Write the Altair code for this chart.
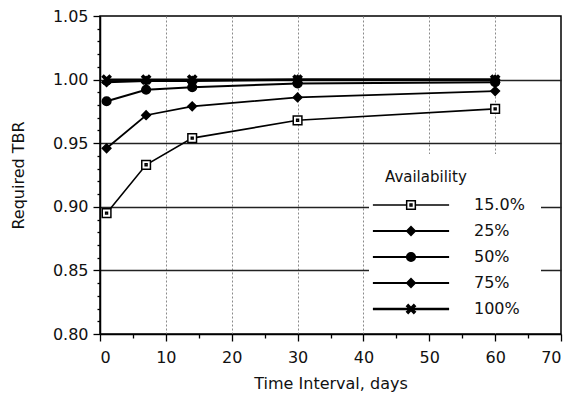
import altair as alt
import pandas as pd

# ---- data ----
days = [1, 7, 14, 30, 60]
series = ["15.0%", "25%", "50%", "75%", "100%"]
marker_keys = ["m15", "m25", "m50", "m75", "m100"]
tbr_15 = [0.895, 0.933, 0.954, 0.968, 0.977]
tbr_25 = [0.946, 0.972, 0.979, 0.986, 0.991]
tbr_50 = [0.983, 0.992, 0.994, 0.997, 0.998]
tbr_75 = [0.998, 0.999, 0.999, 1.000, 1.000]
tbr_100 = [1.000, 1.000, 1.000, 1.000, 1.000]

x_ticks = list(range(0, 71, 5))
y_ticks = [round(0.80 + 0.01 * i, 2) for i in range(26)]

rows = []
for s, m, vals in zip(series, marker_keys, [tbr_15, tbr_25, tbr_50, tbr_75, tbr_100]):
    for d, v in zip(days, vals):
        rows.append({"days": d, "tbr": v, "series": s, "marker": m})
df = pd.DataFrame(rows)

FONT = "DejaVu Sans"
square_dot = "M-1,-1L1,-1L1,1L-1,1Z M-0.22,-0.22L0.22,-0.22L0.22,0.22L-0.22,0.22Z"
x_shape = ("M-1,-0.65L-0.65,-1L0,-0.35L0.65,-1L1,-0.65L0.35,0L1,0.65L0.65,1"
           "L0,0.35L-0.65,1L-1,0.65L-0.35,0Z")
shapes = [square_dot, "diamond", "circle", "diamond", x_shape]
fills = ["white", "black", "black", "black", "black"]
widths = [1.6, 2.4, 3.0, 2.6, 1.6]

LX, LY = 269, 138
common = dict(orient="none", legendX=LX, legendY=LY, padding=16,
              rowPadding=10, symbolSize=75, symbolOffset=18,
              labelFont=FONT, labelFontSize=16, labelColor="#111",
              titleFont=FONT, titleFontSize=15, titleFontWeight="normal",
              titleColor="#111", titlePadding=12)

line_legend = alt.Legend(title="Availability", symbolType="M-8.8,0L8.8,0",
                         symbolStrokeWidth=2.4, labelOffset=55,
                         labelExpr="datum.label + '            '",
                         fillColor="white", **common)
shape_legend = alt.Legend(title="Availability", titleOpacity=0,
                          labelOpacity=0, labelExpr="''", labelOffset=55,
                          symbolStrokeColor="black", symbolStrokeWidth=1.5,
                          **common)

major_x = "abs(datum.value / 10 - round(datum.value / 10)) < 0.001"
major_y = "abs(datum.value * 20 - round(datum.value * 20)) < 0.001"

x_enc = alt.X("days:Q", title="Time Interval, days",
              scale=alt.Scale(domain=[0, 70], nice=False, zero=False),
              axis=alt.Axis(values=x_ticks, tickCount=100, labelOverlap=False,
                            labelExpr=f"{major_x} ? format(datum.value, 'd') : ''",
                            tickSize={"condition": {"test": major_x, "value": 7}, "value": 4},
                            gridOpacity={"condition": {"test": f"{major_x} && datum.value > 1 && datum.value < 69", "value": 1}, "value": 0},
                            grid=True, gridDash=[2, 2], gridColor="#8a8a8a",
                            gridWidth=1, labelPadding=8, titlePadding=10))
y_enc = alt.Y("tbr:Q", title="Required TBR",
              scale=alt.Scale(domain=[0.80, 1.05], nice=False, zero=False),
              axis=alt.Axis(values=y_ticks, tickCount=100, labelOverlap=False,
                            labelExpr=f"{major_y} ? format(datum.value, '.2f') : ''",
                            tickSize={"condition": {"test": major_y, "value": 7}, "value": 3},
                            gridOpacity={"condition": {"test": f"{major_y} && datum.value > 0.81 && datum.value < 1.04", "value": 1}, "value": 0},
                            grid=True, gridColor="#222", gridWidth=1.5,
                            labelPadding=5, titlePadding=26))

lines = alt.Chart(df).mark_line().encode(
    x=x_enc, y=y_enc,
    color=alt.Color("series:N", scale=alt.Scale(domain=series, range=["black"] * 5),
                    legend=line_legend),
    strokeWidth=alt.StrokeWidth("series:N", scale=alt.Scale(domain=series, range=widths),
                                legend=None),
    order=alt.Order("days:Q"),
)

points = alt.Chart(df).mark_point(filled=True, strokeWidth=1.5,
                                  size=75, opacity=1).encode(
    x=alt.X("days:Q"), y=alt.Y("tbr:Q"),
    shape=alt.Shape("marker:N", scale=alt.Scale(domain=marker_keys, range=shapes),
                    legend=shape_legend),
    fill=alt.Fill("marker:N", scale=alt.Scale(domain=marker_keys, range=fills),
                  legend=shape_legend),
    stroke=alt.Stroke("marker:N", scale=alt.Scale(domain=marker_keys, range=["black"] * 5),
                      legend=shape_legend),
)

chart = alt.layer(lines, points).properties(
    width=461, height=318,
    autosize=alt.AutoSizeParams(type="none"),
    padding={"left": 92, "top": 8, "right": 3, "bottom": 62},
).configure_view(
    stroke="black", strokeWidth=1.5
).configure_axis(
    labelFont=FONT, labelFontSize=16, labelColor="#111",
    titleFont=FONT, titleFontSize=16, titleFontWeight="normal", titleColor="#111",
    domainColor="black", domainWidth=1.5, tickColor="black", tickWidth=1.3,
)

chart.save("out.html", embed_options={"renderer": "svg", "actions": False})
